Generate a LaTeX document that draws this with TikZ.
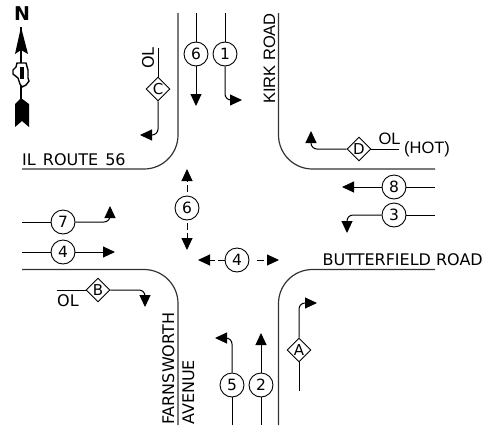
\documentclass[tikz,border=0pt]{standalone}
\usepackage{fontspec}
\setmainfont{DejaVu Sans}
\newfontfamily\arialfont{Liberation Sans}
\usetikzlibrary{arrows.meta,shapes.geometric}
\begin{document}
\begin{tikzpicture}[
		x=1pt,y=-1pt,
		phase/.style={
			draw,
			circle,
			line width=0.9pt,
			minimum size=24pt,
			inner sep=0pt,
			font=\fontsize{15.5}{15.5}\selectfont,
			fill=white
		},
		overlap/.style={
			draw,
			diamond,
			line width=0.9pt,
			minimum size=24pt,
			inner sep=0pt,
			font=\fontsize{15}{15}\selectfont,
			fill=white
		},
		curb/.style={draw, line width=1.2pt, rounded corners=34pt, color=black!80},
		flow/.style={draw, line width=1pt, rounded corners=6pt},
		move/.style={flow, -{Triangle[length=12pt,width=11pt]}},
		walk/.style={move, dash pattern=on 6.5pt off 3pt on 20pt},
		road/.style={inner sep=0pt, font=\fontsize{16}{16}\selectfont},
		roadsf/.style={inner sep=0pt, font=\fontsize{16.5}{16.5}\arialfont}
		]
		\useasboundingbox (0,0) rectangle (484,429);
		
		% Curbs
		\coordinate (nwW) at (22,169);
		\coordinate (nwC) at (178,169);
		\coordinate (nwN) at (178,13);
		\coordinate (neN) at (278.5,13);
		\coordinate (neC) at (278.5,169);
		\coordinate (neE) at (435,169);
		\coordinate (swW) at (22,269.5);
		\coordinate (swC) at (178,269.5);
		\coordinate (swS) at (178,425);
		\coordinate (seE) at (435,269.5);
		\coordinate (seC) at (278.5,269.5);
		\coordinate (seS) at (278.5,425);
		\draw[curb] (nwW) -- (nwC) -- (nwN);
		\draw[curb] (neN) -- (neC) -- (neE);
		\draw[curb] (swW) -- (swC) -- (swS);
		\draw[curb] (seE) -- (seC) -- (seS);
		
		% Road names
		\node[road, anchor=base west] (route) at (22,165) {IL\hspace{2pt} ROUTE\hspace{2pt} 56};
		\node[road, anchor=base east] (butter) at (483,265.5) {BUTTERFIELD ROAD};
		\node[roadsf, rotate=90, anchor=base east] (kirk) at (275,13) {KIRK ROAD};
		\node[road, rotate=90, anchor=base west] (farns) at (174,425) {FARNSWORTH};
		\node[road, rotate=90, anchor=base west] (avenue) at (194,425) {AVENUE};
		
		% Signal phases
		\node[phase] (six) at (196,54) {6};
		\node[phase] (one) at (225,54) {1};
		\node[phase] (eight) at (394,187) {8};
		\node[phase] (three) at (394,215) {3};
		\node[phase] (seven) at (63,222) {7};
		\node[phase] (four) at (63,252) {4};
		\node[phase] (five) at (232,385) {5};
		\node[phase] (two) at (261,385) {2};
		\node[phase] (pedsix) at (187,208) {6};
		\node[phase] (pedfour) at (237,260) {4};
		
		% Overlaps
		\node[overlap] (olc) at (158,89) {C};
		\node[overlap] (old) at (359,149) {D};
		\node[overlap] (olb) at (98,290) {B};
		\node[overlap] (ola) at (299,350) {A};
		\node[inner sep=0pt, font=\fontsize{16}{16}\selectfont, rotate=90] (olctxt) at (148,58) {OL};
		\node[inner sep=0pt, font=\fontsize{16.5}{16.5}\arialfont] (oldtxt) at (389.5,138.5) {OL};
		\node[inner sep=0pt, font=\fontsize{16.5}{16.5}\arialfont] (hot) at (427,149) {(HOT)};
		\node[inner sep=0pt, font=\fontsize{16}{16}\selectfont] (olbtxt) at (68,301) {OL};
		
		% South bound
		\coordinate (sixN) at (196,13);
		\coordinate (sixS) at (196,106);
		\draw[flow] (sixN) -- (six);
		\draw[move] (six) -- (sixS);
		\coordinate (oneN) at (225,13);
		\coordinate (oneB) at (225,100);
		\coordinate (oneS) at (242,100);
		\draw[flow] (oneN) -- (one);
		\draw[move] (one) -- (oneB) -- (oneS);
		\coordinate (olcN) at (158,48);
		\coordinate (olcB) at (158,135);
		\coordinate (olcS) at (140,135);
		\draw[flow] (olcN) -- (olc);
		\draw[move] (olc) -- (olcB) -- (olcS);
		
		% West bound
		\coordinate (eightE) at (435,187);
		\coordinate (eightW) at (342,187);
		\draw[flow] (eightE) -- (eight);
		\draw[move] (eight) -- (eightW);
		\coordinate (threeE) at (435,215);
		\coordinate (threeB) at (347,215);
		\coordinate (threeW) at (347,233);
		\draw[flow] (threeE) -- (three);
		\draw[move] (three) -- (threeB) -- (threeW);
		\coordinate (oldE) at (399,149);
		\coordinate (oldB) at (311,149);
		\coordinate (oldW) at (311,131);
		\draw[flow] (oldE) -- (old);
		\draw[move] (old) -- (oldB) -- (oldW);
		
		% East bound
		\coordinate (sevenW) at (22,222);
		\coordinate (sevenB) at (110,222);
		\coordinate (sevenE) at (110,206);
		\draw[flow] (sevenW) -- (seven);
		\draw[move] (seven) -- (sevenB) -- (sevenE);
		\coordinate (fourW) at (22,252);
		\coordinate (fourE) at (115,252);
		\draw[flow] (fourW) -- (four);
		\draw[move] (four) -- (fourE);
		\coordinate (olbW) at (57,290);
		\coordinate (olbB) at (145,290);
		\coordinate (olbE) at (145,307);
		\draw[flow] (olbW) -- (olb);
		\draw[move] (olb) -- (olbB) -- (olbE);
		
		% North bound
		\coordinate (fiveS) at (232,425);
		\coordinate (fiveB) at (232,338);
		\coordinate (fiveN) at (215,338);
		\draw[flow] (fiveS) -- (five);
		\draw[move] (five) -- (fiveB) -- (fiveN);
		\coordinate (twoS) at (261,425);
		\coordinate (twoN) at (261,333);
		\draw[flow] (twoS) -- (two);
		\draw[move] (two) -- (twoN);
		\coordinate (olaS) at (299,391);
		\coordinate (olaB) at (299,303);
		\coordinate (olaN) at (317,303);
		\draw[flow] (olaS) -- (ola);
		\draw[move] (ola) -- (olaB) -- (olaN);
		
		% Pedestrian phases
		\coordinate (pedsixN) at (187,169);
		\coordinate (pedsixS) at (187,250);
		\coordinate (pedfourW) at (198,260);
		\coordinate (pedfourE) at (279,260);
		\draw[walk, shorten <=4pt] (pedsix) -- (pedsixN);
		\draw[walk, shorten <=3pt] (pedsix) -- (pedsixS);
		\draw[walk] (pedfour) -- (pedfourW);
		\draw[walk, shorten <=8pt] (pedfour) -- (pedfourE);
		
		% North arrow
		\node[inner sep=0pt, font=\fontsize{19}{19}\bfseries] (north) at (22,14) {N};
		\coordinate (needle) at (21,27);
		\coordinate (tail) at (21,100);
		\draw[line width=1.6pt] (needle) -- (tail);
		\fill (needle) -- (28,54) -- (21,50) -- (15,54) -- cycle;
		\draw[line width=1.4pt, fill=white] (17,63) -- (26,63) -- (28,70) -- (28,78) -- (29,81) -- (26,85) -- (22,87) -- (20,84) -- (18,78) -- (13,74) -- (13,70) -- (16,67) -- cycle;
		\draw[line width=3.5pt] (22,67) -- (22,79);
		\fill (21,98) -- (29,104) -- (29,127) -- (22,121) -- (15,127) -- (15,104) -- cycle;
	\end{tikzpicture}
\end{document}
